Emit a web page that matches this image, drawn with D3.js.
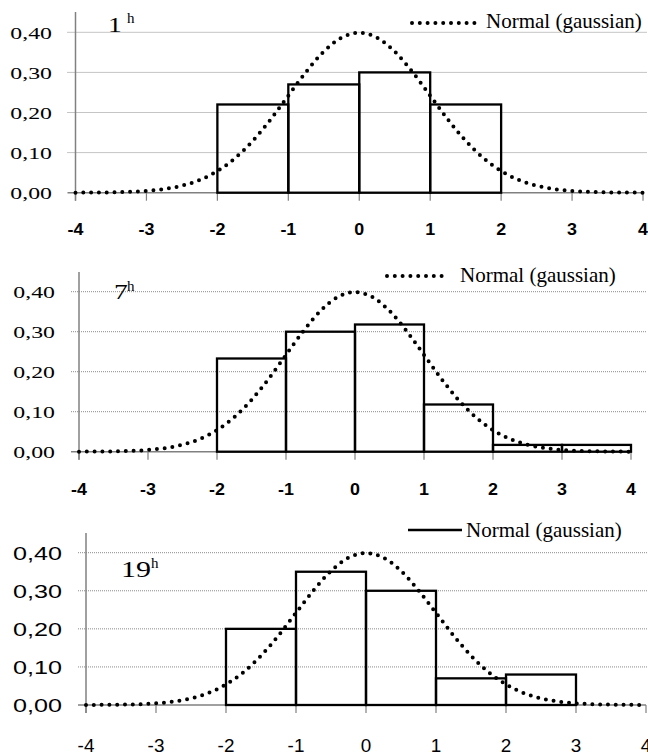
<!DOCTYPE html>
<html>
<head>
<meta charset="utf-8">
<script src="https://cdn.jsdelivr.net/npm/d3@7"></script>
<style>
  html, body { margin: 0; padding: 0; background: #fff; }
  svg { display: block; }
</style>
</head>
<body>
<script>
// histogram bins start at -2, width 1
var binStart = -2;
var freq1h  = [0.22, 0.27, 0.30, 0.22];
var freq7h  = [0.233, 0.30, 0.318, 0.118, 0.017, 0.017];
var freq19h = [0.20, 0.35, 0.30, 0.07, 0.08];

// normal curve, every 0.25
var gaussX = [-4, -3.75, -3.5, -3.25, -3, -2.75, -2.5, -2.25, -2, -1.75, -1.5, -1.25, -1, -0.75, -0.5, -0.25,
              0, 0.25, 0.5, 0.75, 1, 1.25, 1.5, 1.75, 2, 2.25, 2.5, 2.75, 3, 3.25, 3.5, 3.75, 4];
var gaussY = [0.0001, 0.0004, 0.0009, 0.002, 0.0044, 0.0091, 0.0175, 0.0317, 0.054, 0.0863, 0.1295, 0.1826, 0.242, 0.3011, 0.3521, 0.3867,
              0.3989, 0.3867, 0.3521, 0.3011, 0.242, 0.1826, 0.1295, 0.0863, 0.054, 0.0317, 0.0175, 0.0091, 0.0044, 0.002, 0.0009, 0.0004, 0.0001];

var xTicks = [-4, -3, -2, -1, 0, 1, 2, 3, 4];
var yTicks = [0, 0.1, 0.2, 0.3, 0.4];
var legendText = "Normal (gaussian)";

var W = 648, H = 756;
var svg = d3.select("body").append("svg").attr("width", W).attr("height", H);

var serif = "'Liberation Serif', 'Times New Roman', serif";
var sans = "'Liberation Sans', Arial, sans-serif";

var panels = [
  { freq: freq1h,  hour: "1", x0: 75.5, x1: 643, y0: 192.7, y4: 32.3, top: 12,
    yFont: serif, ySize: 17, ySx: 1.4, yRight: 52,
    xFont: sans, xSize: 17, xBold: true, xLab: 229,
    leg: { a: 412, b: 475, y: 23, tx: 486, ty: 28, solid: false },
    title: { x: 108, y: 32, size: 22, hx: 127, hy: 23 } },
  { freq: freq7h,  hour: "7", x0: 79, x1: 631, y0: 451.7, y4: 291.7, top: 272,
    yFont: serif, ySize: 17, ySx: 1.4, yRight: 55,
    xFont: sans, xSize: 17, xBold: true, xLab: 489,
    leg: { a: 387, b: 448, y: 276, tx: 460, ty: 282, solid: false },
    title: { x: 114, y: 299, size: 22, hx: 127, hy: 291 } },
  { freq: freq19h, hour: "19", x0: 86, x1: 646, y0: 705, y4: 552.7, top: 533,
    yFont: sans, ySize: 18, ySx: 1.4, yRight: 62,
    xFont: sans, xSize: 18, xBold: false, xLab: 746,
    leg: { a: 408, b: 462, y: 530, tx: 466, ty: 537, solid: true },
    title: { x: 121, y: 577, size: 24, hx: 151, hy: 568 } }
];

function stretchText(g, x, y, txt, font, size, sx, anchor, weight) {
  return g.append("text")
    .attr("transform", "translate(" + x + "," + y + ") scale(" + sx + ",1)")
    .attr("text-anchor", anchor)
    .attr("dominant-baseline", "central")
    .style("font-family", font)
    .style("font-size", size + "px")
    .style("font-weight", weight || "normal")
    .attr("fill", "#000")
    .text(txt);
}

var fmt = function(v) { return d3.format(".2f")(v).replace(".", ","); };

panels.forEach(function(p) {
  var g = svg.append("g");
  var x = d3.scaleLinear().domain([-4, 4]).range([p.x0, p.x1]);
  var y = d3.scaleLinear().domain([0, 0.4]).range([p.y0, p.y4]);

  // grid lines
  g.selectAll(".grid").data(yTicks.filter(function(d) { return d > 0; }))
    .enter().append("line")
    .attr("x1", p.x0 - 8).attr("x2", W - 1)
    .attr("y1", function(d) { return y(d); }).attr("y2", function(d) { return y(d); })
    .attr("stroke", "#8a8a8a").attr("stroke-width", 1)
    .attr("stroke-dasharray", "1,1");

  // baseline + y axis
  g.append("line").attr("x1", p.x0 - 8).attr("x2", p.x1)
    .attr("y1", p.y0).attr("y2", p.y0)
    .attr("stroke", "#808080").attr("stroke-width", 1.5);
  g.append("line").attr("x1", p.x0).attr("x2", p.x0)
    .attr("y1", p.top).attr("y2", p.y0 + 8)
    .attr("stroke", "#808080").attr("stroke-width", 1.5);

  // x ticks
  g.selectAll(".xt").data(xTicks).enter().append("line")
    .attr("x1", function(d) { return x(d); }).attr("x2", function(d) { return x(d); })
    .attr("y1", p.y0).attr("y2", p.y0 + 8)
    .attr("stroke", "#808080").attr("stroke-width", 1.2);

  // y labels
  yTicks.forEach(function(t) {
    stretchText(g, p.yRight, y(t) + 1, fmt(t), p.yFont, p.ySize, p.ySx, "end");
  });
  // x labels
  xTicks.forEach(function(t) {
    stretchText(g, x(t), p.xLab, String(t), p.xFont, p.xSize, 1.05, "middle", p.xBold ? "bold" : "normal");
  });

  // histogram bars
  g.selectAll(".bar").data(p.freq).enter().append("rect")
    .attr("x", function(d, i) { return x(binStart + i); })
    .attr("width", function(d, i) { return x(binStart + i + 1) - x(binStart + i); })
    .attr("y", function(d) { return y(d); })
    .attr("height", function(d) { return p.y0 - y(d); })
    .attr("fill", "none")
    .attr("stroke", "#000")
    .attr("stroke-width", 2.3);

  // dotted normal curve
  var line = d3.line()
    .x(function(d, i) { return x(gaussX[i]); })
    .y(function(d) { return y(d); })
    .curve(d3.curveMonotoneX);
  g.append("path").attr("d", line(gaussY))
    .attr("fill", "none")
    .attr("stroke", "#000")
    .attr("stroke-width", 4)
    .attr("stroke-linecap", "round")
    .attr("stroke-dasharray", "0,7.8");

  // legend
  var lg = g.append("line").attr("x1", p.leg.a).attr("x2", p.leg.b)
    .attr("y1", p.leg.y).attr("y2", p.leg.y)
    .attr("stroke", "#000");
  if (p.leg.solid) {
    lg.attr("stroke-width", 2.3);
  } else {
    lg.attr("stroke-width", 4).attr("stroke-linecap", "round").attr("stroke-dasharray", "0,7.8");
  }
  g.append("text")
    .attr("x", p.leg.tx).attr("y", p.leg.ty)
    .style("font-family", serif).style("font-size", "21px")
    .attr("fill", "#000")
    .text(legendText);

  // hour label
  g.append("text")
    .attr("transform", "translate(" + p.title.x + "," + p.title.y + ") scale(1.25,1)")
    .style("font-family", serif).style("font-size", p.title.size + "px")
    .text(p.hour);
  g.append("text")
    .attr("x", p.title.hx).attr("y", p.title.hy)
    .style("font-family", serif).style("font-size", "15px")
    .text("h");
});
</script>
</body>
</html>
